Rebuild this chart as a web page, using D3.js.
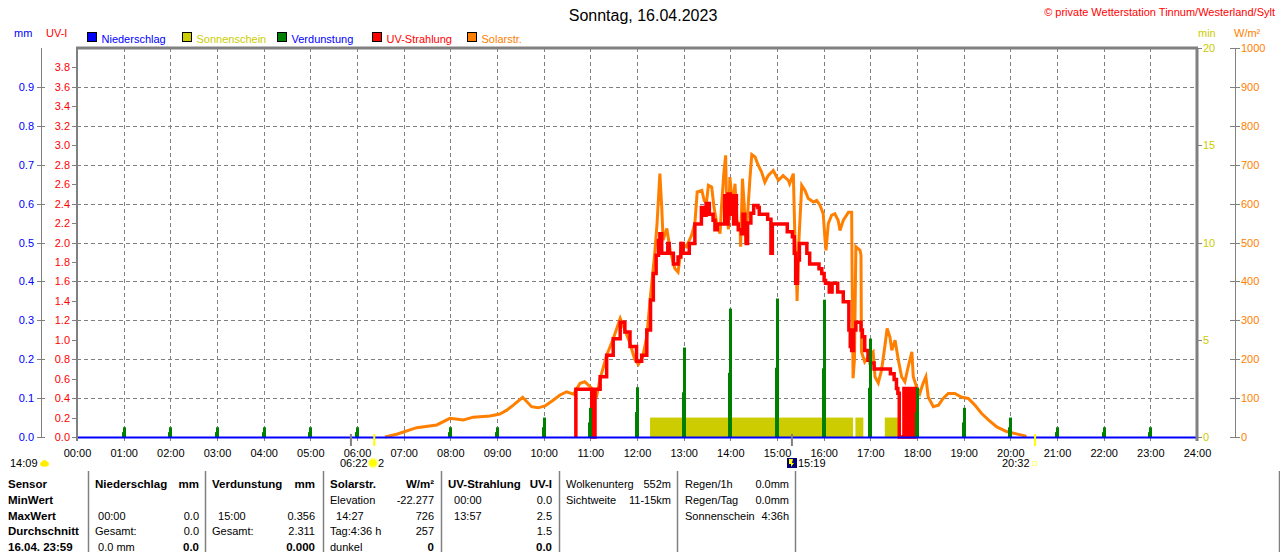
<!DOCTYPE html>
<html>
<head>
<meta charset="utf-8">
<script src="https://d3js.org/d3.v7.min.js"></script>
<style>
  html, body { margin: 0; padding: 0; background: #fff; }
  svg { display: block; font-family: "Liberation Sans", Arial, sans-serif; }
  .grid line { stroke: #808080; stroke-width: 1; stroke-dasharray: 4,3; shape-rendering: crispEdges; }
  .axis path.domain { display: none; }
  .axis line { stroke: #808080; shape-rendering: crispEdges; }
  .axis text { font-size: 11px; }
</style>
</head>
<body>
<div id="chart"></div>
<script>
;(function() {
  'use strict';

  // Hours of the day (x axis 00:00 .. 24:00).
  var hourTicks = [0, 1, 2, 3, 4, 5, 6, 7, 8, 9, 10, 11, 12, 13, 14, 15, 16, 17, 18, 19, 20, 21, 22, 23, 24];

  // Tick labels of the four value axes.
  var uvTicks = [0, 0.2, 0.4, 0.6, 0.8, 1.0, 1.2, 1.4, 1.6, 1.8, 2.0, 2.2, 2.4, 2.6, 2.8, 3.0, 3.2, 3.4, 3.6, 3.8];
  var mmTicks = [0, 0.1, 0.2, 0.3, 0.4, 0.5, 0.6, 0.7, 0.8, 0.9];
  var minTicks = [0, 5, 10, 15, 20];
  var solarTicks = [0, 100, 200, 300, 400, 500, 600, 700, 800, 900, 1000];
  var gridTicks = [100, 200, 300, 400, 500, 600, 700, 800, 900];

  // Niederschlag (mm) per hour - nothing fell all day.
  var precipHours = [0, 24];
  var precipValues = [0, 0];

  // Verdunstung (mm) per hour.
  var evapHours = [0, 1, 2, 3, 4, 5, 6, 7, 8, 9, 10, 11, 12, 13, 14, 15, 16, 17, 18, 19, 20, 21, 22, 23];
  var evapValues = [0, 0.025, 0.025, 0.025, 0.025, 0.025, 0.025, 0, 0.025, 0.025, 0.05, 0.075,
                    0.128, 0.23, 0.33, 0.356, 0.353, 0.253, 0.127, 0.075, 0.05, 0.025, 0.025, 0.025];

  // Sonnenschein: periods (decimal hours) with 1 min of sun per minute.
  var sunStart = [12.28, 16.68, 17.31, 17.85];
  var sunEnd   = [16.63, 16.85, 17.62, 17.88];
  var sunValue = 1;

  // Solarstrahlung (W/m²).
  var solarTimes = [6.60, 6.85, 7.28, 7.71, 7.99, 8.28, 8.49, 8.85, 9.06, 9.21, 9.35, 9.55, 9.74, 9.88,
    10.03, 10.21, 10.35, 10.49, 10.64, 10.78, 10.88, 11.03, 11.14, 11.21, 11.35, 11.49, 11.64, 11.74,
    11.85, 11.95, 12.03, 12.12, 12.21, 12.28, 12.38, 12.43, 12.49, 12.53, 12.56, 12.64, 12.71, 12.81,
    12.88, 12.96, 13.06, 13.17, 13.24, 13.29, 13.39, 13.44, 13.49, 13.53, 13.60, 13.65, 13.71, 13.78,
    13.81, 13.86, 13.90, 13.92, 13.96, 13.99, 14.05, 14.10, 14.14, 14.21, 14.22, 14.26, 14.30, 14.33,
    14.38, 14.42, 14.46, 14.53, 14.60, 14.67, 14.74, 14.81, 14.92, 15.03, 15.13, 15.24, 15.27, 15.35,
    15.38, 15.42, 15.43, 15.47, 15.53, 15.60, 15.67, 15.78, 15.85, 15.92, 15.99, 16.03, 16.05, 16.10,
    16.17, 16.24, 16.31, 16.35, 16.42, 16.53, 16.60, 16.61, 16.63, 16.66, 16.69, 16.78, 16.80, 16.81,
    16.88, 16.99, 17.06, 17.10, 17.17, 17.24, 17.31, 17.36, 17.42, 17.46, 17.53, 17.60, 17.67, 17.74,
    17.81, 17.89, 17.92, 17.99, 18.06, 18.13, 18.19, 18.24, 18.35, 18.46, 18.56, 18.67, 18.81, 18.96,
    19.10, 19.24, 19.38, 19.53, 19.71, 19.92, 20.13, 20.31, 20.34];
  var solarValues = [0, 7, 24, 31, 48, 44, 51, 54, 59, 69, 82, 102, 78, 75,
    80, 95, 108, 116, 110, 138, 142, 125, 108, 150, 210, 252, 305, 275,
    241, 200, 187, 205, 258, 352, 472, 549, 677, 591, 506, 536, 480, 433,
    424, 497, 489, 519, 549, 630, 634, 608, 604, 647, 643, 591, 549, 523,
    591, 677, 724, 591, 534, 668, 591, 651, 557, 531, 489, 664, 591, 497,
    591, 664, 726, 720, 698, 681, 655, 672, 685, 660, 672, 660, 651, 677,
    531, 403, 350, 506, 647, 634, 613, 604, 608, 596, 574, 506, 480, 549,
    570, 574, 557, 531, 557, 578, 578, 412, 151, 200, 489, 480, 467, 219,
    193, 211, 219, 155, 139, 172, 232, 279, 257, 223, 249, 198, 155, 142,
    180, 219, 155, 129, 112, 138, 155, 103, 78, 82, 99, 112, 112, 102,
    99, 82, 61, 44, 26, 14, 8, 3, 0];

  // UV-Strahlung (UV-Index), stepped; zero before 10:41 and after 17:58.
  var uvTimes = [10.69, 10.69, 11.03, 11.10, 11.21, 11.35, 11.49, 11.64, 11.74, 11.85, 11.99, 12.10, 12.21,
    12.29, 12.35, 12.41, 12.46, 12.49, 12.53, 12.66, 12.69, 12.78, 12.88, 12.94, 12.99, 13.12, 13.24,
    13.38, 13.44, 13.48, 13.55, 13.63, 13.67, 13.72, 13.88, 13.93, 13.95, 14.00, 14.03, 14.07, 14.09,
    14.13, 14.17, 14.24, 14.27, 14.31, 14.34, 14.37, 14.44, 14.50, 14.59, 14.62, 14.80, 14.87, 14.90,
    15.22, 15.33, 15.37, 15.40, 15.44, 15.48, 15.64, 15.70, 15.90, 15.96, 16.01, 16.04, 16.12, 16.18,
    16.30, 16.42, 16.54, 16.57, 16.60, 16.64, 16.69, 16.80, 16.83, 16.88, 16.95, 17.00, 17.08, 17.43,
    17.51, 17.56, 17.59, 17.62, 17.72, 17.73, 17.75, 17.76, 17.78, 17.79, 17.81, 17.82, 17.84, 17.85,
    17.90, 17.91, 17.93, 17.94, 17.96, 17.97, 17.97];
  var uvValues = [0, 0.49, 0, 0.49, 0.62, 0.84, 1.01, 1.18, 1.08, 0.93, 0.78, 0.84, 1.10,
    1.41, 1.68, 1.87, 2.02, 2.09, 1.89, 1.99, 1.89, 1.78, 1.85, 1.99, 1.89, 1.99, 2.19,
    2.36, 2.28, 2.40, 2.29, 2.23, 2.13, 2.19, 2.48, 2.19, 2.50, 2.29, 2.48, 2.19, 2.48,
    2.19, 2.13, 2.09, 2.29, 2.19, 1.99, 2.20, 2.30, 2.38, 2.36, 2.29, 2.24, 1.89, 2.19,
    2.11, 2.06, 1.89, 1.58, 1.82, 1.99, 1.89, 1.78, 1.73, 1.68, 1.61, 1.58, 1.49, 1.58,
    1.49, 1.39, 1.10, 0.93, 0.89, 1.10, 1.18, 1.10, 1.03, 0.89, 0.79, 0.76, 0.70, 0.65,
    0.59, 0.50, 0.45, 0, 0.5, 0, 0.5, 0, 0.5, 0, 0.5, 0, 0.5, 0,
    0.5, 0, 0.5, 0, 0.5, 0, 0];

  // Sun / moon markers under the time axis.
  var grayMarks = [5.87, 15.32];
  var yellowMarks = [6.37, 20.53];

  // Table under the chart: [left text, right text] per row.
  var tableFirst = ['Sensor', 'MinWert', 'MaxWert', 'Durchschnitt', '16.04. 23:59'];
  var tableNieder = [['Niederschlag', 'mm'], ['', ''], [' 00:00', '0.0'], ['Gesamt:', '0.0'], [' 0.0 mm', '0.0']];
  var tableVerd = [['Verdunstung', 'mm'], ['', ''], ['  15:00', '0.356'], ['Gesamt:', '2.311'], ['', '0.000']];
  var tableSolar = [['Solarstr.', 'W/m²'], ['Elevation', '-22.277'], ['  14:27', '726'], ['Tag:4:36 h', '257'], ['dunkel', '0']];
  var tableUV = [['UV-Strahlung', 'UV-I'], ['  00:00', '0.0'], ['  13:57', '2.5'], ['', '1.5'], ['', '0.0']];
  var tableCloud = [['Wolkenunterg', '552m'], ['Sichtweite', '11-15km']];
  var tableRain = [['Regen/1h', '0.0mm'], ['Regen/Tag', '0.0mm'], ['Sonnenschein', '4:36h']];

  var width = 1280, height = 552;
  var plot = {left: 77, right: 1197, top: 48, bottom: 437};

  var C = {
    blue: '#0000ff', red: '#ff0000', green: '#008000', yellow: '#cccc00',
    orange: '#ff8000', gray: '#808080'
  };

  var svg = d3.select('#chart').append('svg')
      .attr('width', width)
      .attr('height', height);

  svg.append('rect').attr('width', width).attr('height', height).attr('fill', '#fff');

  // Scales.
  var x = d3.scaleLinear().domain([0, 24]).range([plot.left, plot.right]);
  var yUV = d3.scaleLinear().domain([0, 4]).range([plot.bottom, plot.top]);
  var yMM = d3.scaleLinear().domain([0, 1]).range([plot.bottom, plot.top]);
  var yMin = d3.scaleLinear().domain([0, 20]).range([plot.bottom, plot.top]);
  var yW = d3.scaleLinear().domain([0, 1000]).range([plot.bottom, plot.top]);

  function translation(a, b) {
    return 'translate(' + a + ',' + b + ')';
  }

  function pad2(n) { return (n < 10 ? '0' : '') + n; }

  // Titles.
  svg.append('text').attr('x', 643).attr('y', 21).attr('text-anchor', 'middle')
      .style('font-size', '16px').attr('fill', '#000').text('Sonntag, 16.04.2023');
  svg.append('text').attr('x', 1275).attr('y', 16).attr('text-anchor', 'end')
      .style('font-size', '11px').attr('fill', C.red)
      .text('© private Wetterstation Tinnum/Westerland/Sylt');

  // Axis unit labels.
  svg.append('text').attr('x', 14).attr('y', 37).style('font-size', '11px').attr('fill', C.blue).text('mm');
  svg.append('text').attr('x', 46).attr('y', 37).style('font-size', '11px').attr('fill', C.red).text('UV-I');
  svg.append('text').attr('x', 1198).attr('y', 37).style('font-size', '11px').attr('fill', C.yellow).text('min');
  svg.append('text').attr('x', 1234).attr('y', 37).style('font-size', '11px').attr('fill', C.orange).text('W/m²');

  // Legend.
  var legendItems = [
    {name: 'Niederschlag', box: C.blue, text: C.blue},
    {name: 'Sonnenschein', box: C.yellow, text: C.yellow},
    {name: 'Verdunstung', box: C.green, text: C.blue},
    {name: 'UV-Strahlung', box: C.red, text: C.red},
    {name: 'Solarstr.', box: C.orange, text: C.orange}
  ];
  var legend = svg.append('g').selectAll('g').data(legendItems).enter().append('g')
      .attr('transform', function(d, i) { return translation(87.5 + i * 95, 32.5); });
  legend.append('rect').attr('width', 9).attr('height', 9)
      .attr('fill', function(d) { return d.box; })
      .attr('stroke', '#000').attr('stroke-width', 1);
  legend.append('text').attr('x', 14).attr('y', 10).style('font-size', '11px')
      .attr('fill', function(d) { return d.text; })
      .text(function(d) { return d.name; });

  // Grid lines.
  var grid = svg.append('g').classed('grid', true);
  grid.selectAll('.h').data(gridTicks).enter().append('line')
      .attr('x1', plot.left).attr('x2', plot.right)
      .attr('y1', function(d) { return Math.round(yW(d)) + 0.5; })
      .attr('y2', function(d) { return Math.round(yW(d)) + 0.5; });
  grid.selectAll('.v').data(hourTicks.slice(1, 24)).enter().append('line')
      .attr('y1', plot.top).attr('y2', plot.bottom)
      .attr('x1', function(d) { return Math.round(x(d)) + 0.5; })
      .attr('x2', function(d) { return Math.round(x(d)) + 0.5; });

  // Sonnenschein blocks.
  svg.append('g').selectAll('rect').data(sunStart).enter().append('rect')
      .attr('x', function(d) { return x(d); })
      .attr('width', function(d, i) { return x(sunEnd[i]) - x(d); })
      .attr('y', yMin(sunValue))
      .attr('height', yMin(0) - yMin(sunValue))
      .attr('fill', C.yellow);

  // Solar radiation.
  var solarLine = d3.line()
      .x(function(d, i) { return x(solarTimes[i]); })
      .y(function(d) { return yW(d); });
  svg.append('path').datum(solarValues)
      .attr('d', solarLine)
      .attr('fill', 'none').attr('stroke', C.orange).attr('stroke-width', 3)
      .attr('stroke-linejoin', 'miter');

  // UV index, stepped.
  var uvLine = d3.line()
      .curve(d3.curveStepAfter)
      .x(function(d, i) { return x(uvTimes[i]); })
      .y(function(d) { return yUV(d); });
  svg.append('path').datum(uvValues)
      .attr('d', uvLine)
      .attr('fill', 'none').attr('stroke', C.red).attr('stroke-width', 3.5);

  // Evaporation bars: full bar plus a wider lower half.
  var evap = svg.append('g').selectAll('g').data(evapValues).enter().append('g');
  evap.append('rect')
      .attr('x', function(d, i) { return Math.round(x(evapHours[i])) - 2; })
      .attr('width', 4)
      .attr('y', function(d) { return yMM(d / 2); })
      .attr('height', function(d) { return yMM(0) - yMM(d / 2); })
      .attr('fill', C.green);
  evap.append('rect')
      .attr('x', function(d, i) { return Math.round(x(evapHours[i])) - 1; })
      .attr('width', 3)
      .attr('y', function(d) { return yMM(d); })
      .attr('height', function(d) { return yMM(0) - yMM(d); })
      .attr('fill', C.green);

  // X axis.
  var xAxis = d3.axisBottom(x)
      .tickValues(hourTicks)
      .tickSize(4)
      .tickFormat(function(d) { return pad2(d) + ':00'; });
  var gx = svg.append('g').classed('axis', true)
      .attr('transform', translation(0, plot.bottom))
      .call(xAxis);
  gx.selectAll('text').attr('y', 20).attr('dy', 0).attr('fill', '#000');

  // Precipitation line (zero all day) on the base.
  var precipLine = d3.line()
      .x(function(d, i) { return x(precipHours[i]); })
      .y(function(d) { return yMM(d) + 0.5; });
  svg.append('path').datum(precipValues)
      .attr('d', precipLine)
      .attr('stroke', C.blue).attr('stroke-width', 2).attr('fill', 'none');

  // Frame.
  svg.append('line').attr('x1', plot.left - 1).attr('x2', plot.right + 1)
      .attr('y1', plot.top).attr('y2', plot.top)
      .attr('stroke', C.gray).attr('stroke-width', 3);
  svg.append('line').attr('x1', plot.left).attr('x2', plot.left)
      .attr('y1', plot.top).attr('y2', plot.bottom + 4)
      .attr('stroke', C.gray).attr('stroke-width', 2);
  svg.append('line').attr('x1', plot.right).attr('x2', plot.right)
      .attr('y1', plot.top).attr('y2', plot.bottom + 4)
      .attr('stroke', C.gray).attr('stroke-width', 3);

  // UV axis (left, red).
  var gUV = svg.append('g').classed('axis', true)
      .attr('transform', translation(plot.left - 1, 0))
      .call(d3.axisLeft(yUV).tickValues(uvTicks).tickSize(4).tickPadding(2)
              .tickFormat(d3.format('.1f')));
  gUV.selectAll('text').attr('fill', C.red);

  // mm axis (far left, blue).
  svg.append('line').attr('x1', 41.5).attr('x2', 41.5)
      .attr('y1', yMM.range()[1]).attr('y2', yMM.range()[0])
      .attr('stroke', C.gray).attr('stroke-width', 1);
  var gMM = svg.append('g').classed('axis', true)
      .attr('transform', translation(45, 0))
      .call(d3.axisLeft(yMM).tickValues(mmTicks).tickSize(8).tickPadding(3)
              .tickFormat(d3.format('.1f')));
  gMM.selectAll('text').attr('fill', C.blue);

  // min axis (right, yellow).
  var gMin = svg.append('g').classed('axis', true)
      .attr('transform', translation(plot.right, 0))
      .call(d3.axisRight(yMin).tickValues(minTicks).tickSize(5).tickPadding(1));
  gMin.selectAll('text').attr('fill', C.yellow);

  // W/m² axis (far right, orange).
  svg.append('line').attr('x1', 1235.5).attr('x2', 1235.5)
      .attr('y1', yW.range()[1]).attr('y2', yW.range()[0])
      .attr('stroke', C.gray).attr('stroke-width', 1);
  var gW = svg.append('g').classed('axis', true)
      .attr('transform', translation(1230, 0))
      .call(d3.axisRight(yW).tickValues(solarTicks).tickSize(10).tickPadding(1)
              .tickFormat(d3.format('d')));
  gW.selectAll('text').attr('fill', C.orange);

  // Sun / moon markers.
  svg.append('g').selectAll('line').data(grayMarks).enter().append('line')
      .attr('x1', function(d) { return x(d); }).attr('x2', function(d) { return x(d); })
      .attr('y1', 434).attr('y2', 446)
      .attr('stroke', C.gray).attr('stroke-width', 2);
  svg.append('g').selectAll('line').data(yellowMarks).enter().append('line')
      .attr('x1', function(d) { return x(d); }).attr('x2', function(d) { return x(d); })
      .attr('y1', 434).attr('y2', 446)
      .attr('stroke', '#ffff00').attr('stroke-width', 2);

  var small = function(xx, yy, str) {
    return svg.append('text').attr('x', xx).attr('y', yy)
        .style('font-size', '11px').attr('fill', '#000').text(str);
  };
  small(10, 467, '14:09');
  svg.append('ellipse').attr('cx', 44.5).attr('cy', 464).attr('rx', 4.5).attr('ry', 2.8).attr('fill', '#ffee00');
  svg.append('ellipse').attr('cx', 44.5).attr('cy', 462).attr('rx', 2.5).attr('ry', 2).attr('fill', '#ffee00');
  small(340, 467, '06:22');
  svg.append('circle').attr('cx', 373).attr('cy', 463).attr('r', 4.5).attr('fill', '#ffff00')
      .attr('stroke', '#ffffa0').attr('stroke-width', 1.5);
  small(378, 467, '2');
  svg.append('rect').attr('x', 787).attr('y', 458).attr('width', 10).attr('height', 10).attr('fill', '#000080');
  svg.append('path').attr('d', 'M789,459 L793,459 L792,463 L794,463 L791,467 L791,464 L789,464 Z').attr('fill', '#ffff00');
  small(798, 467, '15:19');
  small(1002, 467, '20:32');
  svg.append('rect').attr('x', 1032.5).attr('y', 461.5).attr('width', 4).attr('height', 4)
      .attr('fill', 'none').attr('stroke', '#ffff80').attr('stroke-width', 1);

  // Table.
  var rowY = [488, 503.8, 519.6, 535.4, 550.5];
  var dividers = [88, 205, 323, 441, 559, 677, 795, 1279];
  svg.append('g').selectAll('line').data(dividers).enter().append('line')
      .attr('x1', function(d) { return d + 0.5; }).attr('x2', function(d) { return d + 0.5; })
      .attr('y1', 471).attr('y2', height)
      .attr('stroke', C.gray).attr('stroke-width', 1.5);

  var table = svg.append('g').attr('fill', '#000');
  tableFirst.forEach(function(t, i) {
    table.append('text').attr('x', 8).attr('y', rowY[i])
        .style('font-size', '11.5px').style('font-weight', 'bold').text(t);
  });

  function column(rows, left, right, boldRows, lastBold) {
    rows.forEach(function(r, i) {
      var bold = boldRows.indexOf(i) >= 0;
      table.append('text').attr('x', left).attr('y', rowY[i])
          .attr('xml:space', 'preserve')
          .style('font-size', bold ? '11.5px' : '11px')
          .style('font-weight', bold ? 'bold' : 'normal')
          .text(r[0]);
      var rb = bold || (lastBold && i === 4);
      table.append('text').attr('x', right).attr('y', rowY[i]).attr('text-anchor', 'end')
          .style('font-size', rb ? '11.5px' : '11px')
          .style('font-weight', rb ? 'bold' : 'normal')
          .text(r[1]);
    });
  }
  column(tableNieder, 95, 199, [0], true);
  column(tableVerd, 212, 315, [0], true);
  column(tableSolar, 330, 434, [0], true);
  column(tableUV, 448, 552, [0], true);
  column(tableCloud, 566, 671, [], false);
  column(tableRain, 685, 789, [], false);

}());
</script>
</body>
</html>
